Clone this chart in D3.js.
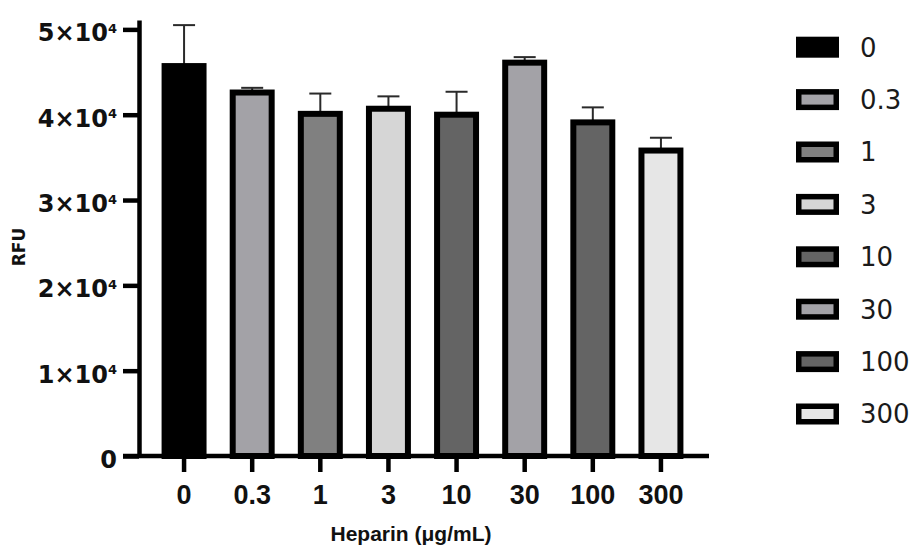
<!DOCTYPE html>
<html>
<head>
<meta charset="utf-8">
<script src="https://cdnjs.cloudflare.com/ajax/libs/d3/7.8.5/d3.min.js"></script>
<style>
	body { margin: 0; background: #fff; }
	svg { display: block; font-family: 'Liberation Sans', Arial, sans-serif; }
</style>
</head>
<body>
<script>
// heparin concentrations (ug/mL)
var categories = ['0','0.3','1','3','10','30','100','300'];
var means  = [45700, 42600, 40100, 40700, 40000, 46100, 39100, 35800];
var errors = [ 4800,   550,  2380,  1450,  2690,   650,  1760,  1500];
var fills  = ['#000000','#a3a2a7','#808080','#d6d6d6','#646464','#a3a2a7','#646464','#e6e6e6'];
var yTicks = [0, 10000, 20000, 30000, 40000, 50000];

var width = 916, height = 548;
var barStroke = 6;
var wideFont = "'DejaVu Sans', Verdana, sans-serif";

var svg = d3.select('body').append('svg').attr('width',width).attr('height',height);

var y = d3.scaleLinear()
	.domain([0, 51100])
	.range([456, 20]);

var x = d3.scaleBand()
	.domain(categories)
	.range([150, 695])
	.paddingInner(0.34)
	.paddingOuter(0.17);

var data = categories.map((c,i)=>({cat:c, mean:means[i], err:errors[i], fill:fills[i]}));

// error bars (drawn first, bars sit on top)
var eb = svg.append('g').attr('class','errorbars')
	.attr('stroke','#2a2a2a').attr('stroke-width',2);
eb.selectAll('line.v').data(data).enter().append('line')
	.attr('class','v')
	.attr('x1',d=>x(d.cat)+x.bandwidth()/2).attr('x2',d=>x(d.cat)+x.bandwidth()/2)
	.attr('y1',d=>y(d.mean)).attr('y2',d=>y(d.mean+d.err));
eb.selectAll('line.cap').data(data).enter().append('line')
	.attr('class','cap')
	.attr('x1',d=>x(d.cat)+x.bandwidth()/2-11).attr('x2',d=>x(d.cat)+x.bandwidth()/2+11)
	.attr('y1',d=>y(d.mean+d.err)).attr('y2',d=>y(d.mean+d.err));

// bars
svg.append('g').attr('class','bars')
	.selectAll('rect').data(data).enter().append('rect')
		.attr('x',d=>x(d.cat)+barStroke/2)
		.attr('width',x.bandwidth()-barStroke)
		.attr('y',d=>y(d.mean))
		.attr('height',d=>y(0)-y(d.mean))
		.attr('fill',d=>d.fill)
		.attr('stroke','#000')
		.attr('stroke-width',barStroke);

// y axis
var yAxis = svg.append('g').attr('class','y axis')
	.attr('transform','translate(139,0)')
	.call(d3.axisLeft(y).tickValues(yTicks).tickSize(16).tickPadding(6).tickSizeOuter(0));
yAxis.select('.domain').attr('stroke','#000').attr('stroke-width',4.5);
yAxis.selectAll('.tick line').attr('stroke','#000').attr('stroke-width',4.5);
yAxis.selectAll('.tick text')
	.attr('fill','#111')
	.style('font-family',wideFont)
	.style('font-size','24px').style('font-weight','bold')
	.attr('dy','0.48em')
	.each(function(d){
		var t = d3.select(this).text('');
		if(d===0){ t.text('0'); return; }
		t.append('tspan').text((d/10000)+'\u00d710');
		t.append('tspan').text('4').style('font-size','13px').attr('dy','-8.5');
	});

// x axis
var xAxis = svg.append('g').attr('class','x axis')
	.attr('transform','translate(0,456)')
	.call(d3.axisBottom(x).tickSize(16).tickPadding(13).tickSizeOuter(0));
xAxis.select('.domain').remove();
xAxis.append('line')
	.attr('x1',123).attr('x2',709)
	.attr('stroke','#000').attr('stroke-width',4.5);
xAxis.selectAll('.tick line').attr('stroke','#000').attr('stroke-width',4.5);
xAxis.selectAll('.tick text')
	.attr('fill','#111')
	.style('font-family',"'Liberation Sans', Arial, sans-serif")
	.style('font-size','27px').style('font-weight','bold');

// axis titles
svg.append('text')
	.attr('x',411).attr('y',541)
	.attr('text-anchor','middle')
	.style('font-size','21px').style('font-weight','bold').attr('fill','#111')
	.text('Heparin (\u03bcg/mL)');

svg.append('text')
	.attr('transform','translate(25,247) rotate(-90)')
	.attr('text-anchor','middle')
	.style('font-family',wideFont)
	.style('font-size','17px').style('font-weight','bold').attr('fill','#111')
	.text('RFU');

// legend
var legend = svg.append('g').attr('class','legend')
	.attr('transform','translate(796,36.7)');
var items = legend.selectAll('g').data(data).enter().append('g')
	.attr('transform',(d,i)=>`translate(0,${i*52.4})`);
items.append('rect')
	.attr('x',2.75).attr('y',2.75)
	.attr('width',37.5).attr('height',15.5)
	.attr('fill',d=>d.fill)
	.attr('stroke','#000').attr('stroke-width',5.5);
items.append('text')
	.attr('x',64).attr('y',10.5).attr('dy','0.36em')
	.style('font-family',wideFont)
	.style('font-size','26px').attr('fill','#1a1a1a')
	.text(d=>d.cat);
</script>
</body>
</html>
